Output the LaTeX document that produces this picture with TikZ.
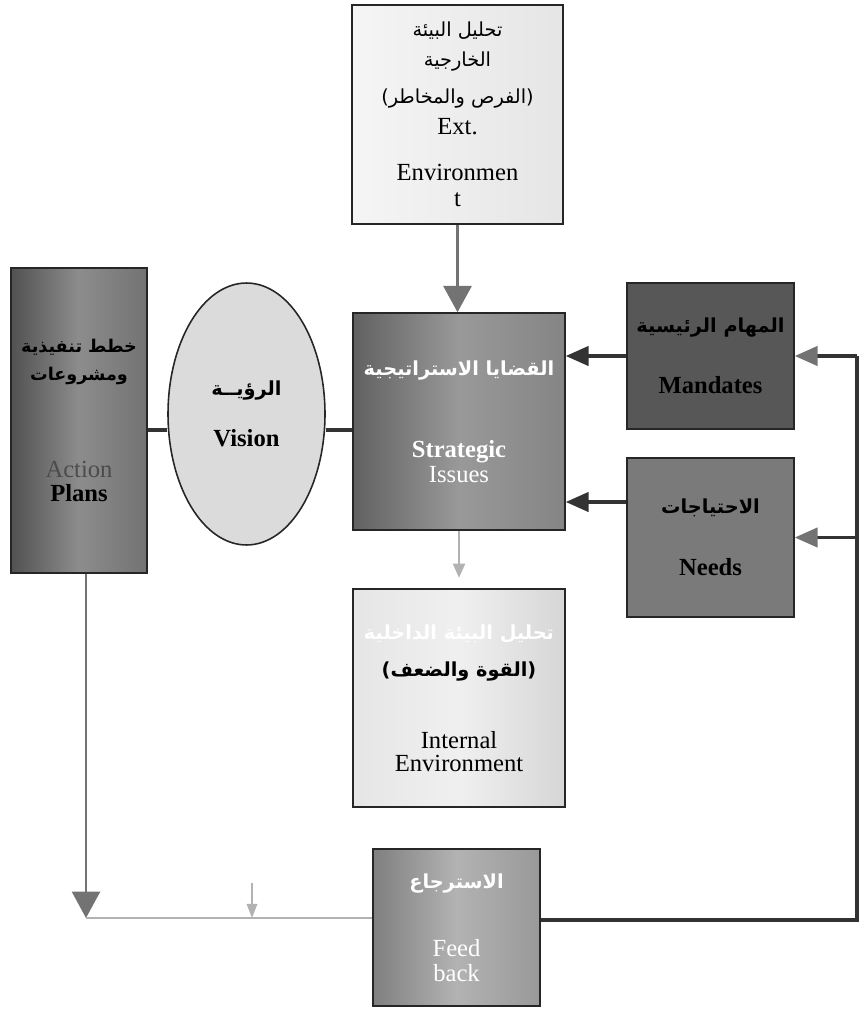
\documentclass[tikz,border=0pt]{standalone}
\usepackage{fontspec}
\setmainfont{Liberation Serif}
\newfontfamily\arabicfont[Script=Arabic]{DejaVu Sans}
\TeXXeTstate=1
\usetikzlibrary{positioning, shapes.geometric, arrows.meta}

\newcommand\artext[1]{{\arabicfont\fontsize{11}{14}\selectfont\beginR #1\endR}}
\newcommand\arsmall[1]{{\arabicfont\fontsize{10}{13}\selectfont\beginR #1\endR}}

\begin{document}
\begin{tikzpicture}[x=0.02cm, y=-0.02cm,
    box/.style={draw=black!85, line width=0.9pt, rectangle, align=center, inner sep=0pt,
      font=\fontsize{14}{17}\selectfont},
    link/.style={draw=black!80, line width=1.9pt},
    flow/.style={link, -{Triangle[length=13pt, width=11pt, color=black!80]}},
    back/.style={link, -{Triangle[length=13pt, width=11pt, color=black!55]}},
    down/.style={draw=black!55, line width=1.7pt, -{Triangle[length=15pt, width=16pt]}},
    faint/.style={draw=black!30, line width=0.8pt}
  ]
  \useasboundingbox (0,0) rectangle (861,1010);

  % Boxes
  \node[box, left color=black!4, right color=black!10, minimum width=4.22cm, minimum height=4.38cm]
    (ext) at (457.5,114.5) {%
    \artext{تحليل البيئة}\\[0pt]
    \artext{الخارجية}\\[4pt]
    \artext{(الفرص والمخاطر)}\\[1pt]
    Ext.\\[9pt]
    Environmen\\[-2pt]
    t};
  \node[box, left color=black!62, right color=black!48, middle color=black!40, text=white,
    minimum width=4.24cm, minimum height=4.34cm] (issues) at (459,421.5) {%
    \artext{\bfseries القضايا الاستراتيجية}\\[30pt]
    \textbf{Strategic}\\[-3pt]
    Issues};
  \node[box, left color=black!68, right color=black!55, middle color=black!45,
    minimum width=2.72cm, minimum height=6.1cm] (plans) at (79,420.5) {%
    \arsmall{\bfseries خطط تنفيذية}\\[-1pt]
    \arsmall{\bfseries ومشروعات}\\[38pt]
    {\color{black!70}Action}\\[-3pt]
    \textbf{Plans}};
  \node[ellipse, draw=black!85, line width=0.9pt, fill=black!14, inner sep=0pt, align=center,
    font=\fontsize{14}{17}\selectfont, minimum width=3.14cm, minimum height=5.24cm]
    (vision) at (246.5,414) {%
    \artext{\bfseries الرؤيــة}\\[12pt]
    \textbf{Vision}};
  \node[box, fill=black!66, minimum width=3.34cm, minimum height=2.92cm]
    (mandates) at (710.5,356) {%
    \artext{\bfseries المهام الرئيسية}\\[18pt]
    \textbf{Mandates}};
  \node[box, fill=black!52, minimum width=3.34cm, minimum height=3.18cm]
    (needs) at (710.5,537.5) {%
    \artext{\bfseries الاحتياجات}\\[18pt]
    \textbf{Needs}};
  \node[box, left color=black!10, right color=black!16, middle color=black!6,
    minimum width=4.24cm, minimum height=4.36cm] (internal) at (459,698) {%
    {\color{white}\artext{\bfseries تحليل البيئة الداخلية}}\\[4pt]
    \artext{\bfseries (القوة والضعف)}\\[24pt]
    Internal\\[-4pt]
    Environment};
  \node[box, left color=black!50, right color=black!40, middle color=black!30, text=white,
    minimum width=3.34cm, minimum height=3.14cm] (feedback) at (456.5,927.5) {%
    \artext{\bfseries الاسترجاع}\\[22pt]
    Feed\\[-3pt]
    back};

  % Helper points
  \coordinate (axis) at (0,430);
  \coordinate (in2) at (0,502);
  \coordinate (loop) at (857,920);
  \coordinate (drop) at (86,918);
  \coordinate (ghost) at (252,883);

  % Connectors
  \draw[down] (ext.south) -- (ext.south |- issues.north);
  \draw[link] (plans.east |- axis) -- (vision.west |- axis);
  \draw[link] (vision.east |- axis) -- (issues.west |- axis);
  \draw[flow] (mandates.west) -- (mandates.west -| issues.east);
  \draw[flow] (needs.west |- in2) -- (issues.east |- in2);
  \draw[faint, -{Triangle[length=8pt, width=7pt]}] (issues.south) -- ([yshift=6pt]internal.north);

  % Feedback loop
  \draw[link] (feedback.east |- loop) -- (loop) -- (loop |- mandates.east);
  \draw[back] (loop |- mandates.east) -- (mandates.east);
  \draw[back] (loop |- needs.east) -- (needs.east);
  \draw[down, line width=1.1pt] (plans.south -| drop) -- (drop);
  \draw[faint, line width=1.2pt] (drop) -- (feedback.west |- drop);
  \draw[faint, -{Triangle[length=8pt, width=6pt]}] (ghost) -- (ghost |- drop);
\end{tikzpicture}
\end{document}
